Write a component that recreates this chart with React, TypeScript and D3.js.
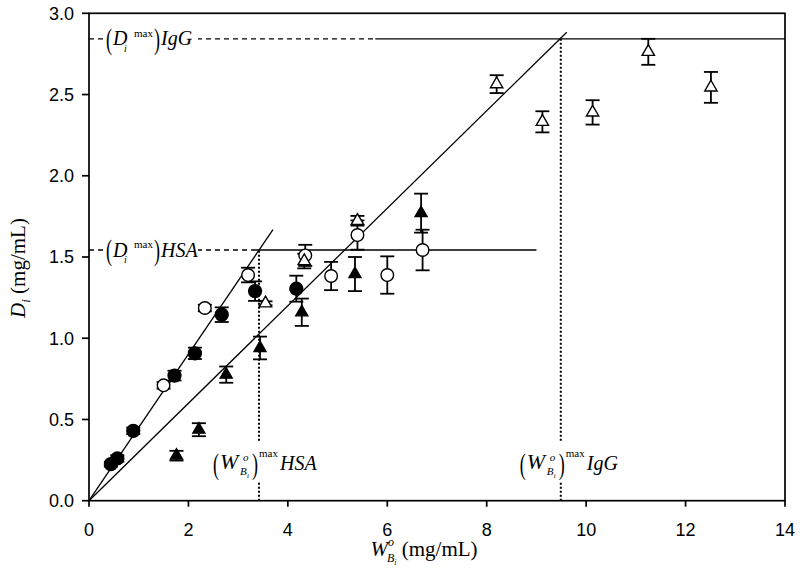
import React from "react";
import * as d3 from "d3";

const xTicks = [0, 2, 4, 6, 8, 10, 12, 14];
const yTicks = [0, 0.5, 1.0, 1.5, 2.0, 2.5, 3.0];

// filled circles
const fcX = [0.44, 0.57, 0.89, 1.72, 2.13, 2.67, 3.34, 4.17];
const fcY = [0.225, 0.26, 0.43, 0.77, 0.907, 1.145, 1.29, 1.305];
const fcErr = [0.015, 0.02, 0.02, 0.03, 0.035, 0.045, 0.06, 0.08];

// open circles
const ocX = [1.5, 2.33, 3.2, 4.35, 4.87, 5.4, 6.0, 6.71];
const ocY = [0.71, 1.186, 1.389, 1.51, 1.383, 1.635, 1.389, 1.543];
const ocErr = [0.02, 0.02, 0.045, 0.065, 0.087, 0.09, 0.115, 0.125];

// filled triangles
const ftX = [1.76, 2.21, 2.76, 3.44, 4.28, 5.35, 6.68];
const ftY = [0.277, 0.437, 0.776, 0.94, 1.16, 1.395, 1.77];
const ftErr = [0.03, 0.04, 0.05, 0.07, 0.084, 0.105, 0.12];

// open triangles
const otX = [3.55, 4.33, 5.4, 8.2, 9.12, 10.13, 11.25, 12.51];
const otY = [1.215, 1.475, 1.723, 2.564, 2.332, 2.39, 2.763, 2.544];
const otErr = [0.012, 0.045, 0.03, 0.055, 0.065, 0.075, 0.08, 0.095];

// fits and maxima
const fitSlopes = [0.451, 0.3];
const fitEnds = [3.7, 9.61];
const dMax = [1.543, 2.843]; // HSA, IgG
const wMax = [3.42, 9.49];
const plateauStart = [3.26, 5.76];
const plateauEnd = [9.0, 14];
const labelNames = ["HSA", "IgG"];

const w = 800;
const h = 568;
const margin = { top: 13.3, right: 15, bottom: 67.3, left: 89 };

const xScale = d3.scaleLinear().domain([0, 14]).range([margin.left, w - margin.right]);
const yScale = d3.scaleLinear().domain([0, 3]).range([h - margin.bottom, margin.top]);

const serif = "'Liberation Serif', 'Times New Roman', serif";
const sans = "'Liberation Sans', Arial, sans-serif";

const triPath = d3.symbol(d3.symbolTriangle, 66)() as string;

function ErrorBars({ xs, ys, es }: { xs: number[]; ys: number[]; es: number[] }) {
	return (
		<g stroke="black" strokeWidth={1.8}>
			{xs.map((x, i) => {
				const cx = xScale(x);
				const top = yScale(ys[i] + es[i]);
				const bot = yScale(ys[i] - es[i]);
				return (
					<g key={i}>
						<line x1={cx} x2={cx} y1={top} y2={bot} />
						<line x1={cx - 7} x2={cx + 7} y1={top} y2={top} />
						<line x1={cx - 7} x2={cx + 7} y1={bot} y2={bot} />
					</g>
				);
			})}
		</g>
	);
}

// tall, narrow bracket
function Paren({ x, y, ch }: { x: number; y: number; ch: string }) {
	return (
		<text transform={`translate(${x}, ${y}) scale(0.6, 1)`} fontSize={30}>{ch}</text>
	);
}

function DLabel({ x0, yc, name }: { x0: number; yc: number; name: string }) {
	return (
		<g transform={`translate(${x0}, ${yc})`} fontFamily={serif} fill="black">
			<rect x={-2} y={-15} width={94} height={30} fill="white" />
			<Paren x={0} y={10} ch="(" />
			<text x={7} y={6.5} fontSize={20} fontStyle="italic">D</text>
			<text x={18} y={13} fontSize={10} fontStyle="italic">i</text>
			<text x={28} y={-2} fontSize={11}>max</text>
			<Paren x={48} y={10} ch=")" />
			<text x={55} y={6.5} fontSize={20} fontStyle="italic">{name}</text>
		</g>
	);
}

function WLabel({ x0, yb, name }: { x0: number; yb: number; name: string }) {
	return (
		<g transform={`translate(${x0}, ${yb})`} fontFamily={serif} fill="black">
			<rect x={-2} y={-27} width={104} height={40} fill="white" />
			<Paren x={0} y={5} ch="(" />
			<text x={7} y={0} fontSize={22} fontStyle="italic">W</text>
			<text x={30} y={-8} fontSize={11} fontStyle="italic">o</text>
			<text x={27} y={6} fontSize={11} fontStyle="italic">B</text>
			<text x={34} y={9} fontSize={7} fontStyle="italic">i</text>
			<Paren x={39} y={5} ch=")" />
			<text x={46} y={-12} fontSize={11}>max</text>
			<text x={67} y={1} fontSize={20} fontStyle="italic">{name}</text>
		</g>
	);
}

export default function App() {
	const x0 = xScale(0);
	const y0 = yScale(0);
	const fit = d3.line<[number, number]>().x(d => xScale(d[0])).y(d => yScale(d[1]));

	return (
		<svg width={w} height={h} style={{ position: "absolute", left: 0, top: 0, background: "white" }}>
			{/* fit lines */}
			{fitSlopes.map((s, i) => (
				<path key={i} d={fit([[0, 0], [fitEnds[i], fitEnds[i] * s]]) as string} fill="none" stroke="black" strokeWidth={1.3} />
			))}

			{/* plateau lines */}
			{dMax.map((d, i) => (
				<g key={i} stroke="black" strokeWidth={1.3}>
					<line x1={x0} x2={xScale(plateauStart[i])} y1={yScale(d)} y2={yScale(d)} strokeDasharray="5,4" />
					<line x1={xScale(plateauStart[i])} x2={xScale(plateauEnd[i])} y1={yScale(d)} y2={yScale(d)} />
					<line x1={xScale(wMax[i])} x2={xScale(wMax[i])} y1={y0} y2={yScale(d)} strokeDasharray="2,2" strokeWidth={2} />
				</g>
			))}

			{/* annotations */}
			{dMax.map((d, i) => (
				<DLabel key={i} x0={x0 + 17} yc={yScale(d)} name={labelNames[i]} />
			))}
			{wMax.map((wm, i) => (
				<WLabel key={i} x0={xScale(wm) - (i === 0 ? 46 : 41)} yb={469} name={labelNames[i]} />
			))}

			{/* error bars */}
			<ErrorBars xs={fcX} ys={fcY} es={fcErr} />
			<ErrorBars xs={ocX} ys={ocY} es={ocErr} />
			<ErrorBars xs={ftX} ys={ftY} es={ftErr} />
			<ErrorBars xs={otX} ys={otY} es={otErr} />

			{/* markers */}
			{fcX.map((x, i) => (
				<circle key={"fc" + i} cx={xScale(x)} cy={yScale(fcY[i])} r={6.5} fill="black" stroke="black" strokeWidth={1.3} />
			))}
			{ocX.map((x, i) => (
				<circle key={"oc" + i} cx={xScale(x)} cy={yScale(ocY[i])} r={6.3} fill="white" stroke="black" strokeWidth={1.4} />
			))}
			{ftX.map((x, i) => (
				<path key={"ft" + i} d={triPath} transform={`translate(${xScale(x)}, ${yScale(ftY[i])})`} fill="black" stroke="black" strokeWidth={1.2} />
			))}
			{otX.map((x, i) => (
				<path key={"ot" + i} d={triPath} transform={`translate(${xScale(x)}, ${yScale(otY[i])})`} fill="white" stroke="black" strokeWidth={1.4} />
			))}

			{/* frame */}
			<rect x={x0} y={margin.top} width={xScale(14) - x0} height={y0 - margin.top} fill="none" stroke="black" strokeWidth={1.7} />

			{/* axes */}
			<g fontFamily={sans} fontSize={18} fill="black">
				{xTicks.map(t => (
					<g key={t}>
						<line x1={xScale(t)} x2={xScale(t)} y1={y0} y2={y0 + 6} stroke="black" strokeWidth={1.7} />
						<text x={xScale(t)} y={536} textAnchor="middle">{t}</text>
					</g>
				))}
				{yTicks.map(t => (
					<g key={t}>
						<line x1={x0 - 7} x2={x0} y1={yScale(t)} y2={yScale(t)} stroke="black" strokeWidth={1.7} />
						<text x={74} y={yScale(t)} dy="0.36em" textAnchor="end">{d3.format(".1f")(t)}</text>
					</g>
				))}
			</g>

			{/* axis titles */}
			<text x={424} y={556} textAnchor="middle" fontFamily={serif} fontSize={21} fill="black">
				<tspan fontStyle="italic">W</tspan>
				<tspan fontSize={12} fontStyle="italic" dy={-10}>o</tspan>
				<tspan fontSize={12} fontStyle="italic" dx={-7} dy={16}>B</tspan>
				<tspan fontSize={8} fontStyle="italic" dy={3}>i</tspan>
				<tspan dy={-9}> (mg/mL)</tspan>
			</text>
			<text transform="translate(25, 268) rotate(-90)" textAnchor="middle" fontFamily={serif} fontSize={21} fill="black">
				<tspan fontStyle="italic">D</tspan>
				<tspan fontSize={13} fontStyle="italic" dy={5}>i</tspan>
				<tspan dy={-5}> (mg/mL)</tspan>
			</text>
		</svg>
	);
}
